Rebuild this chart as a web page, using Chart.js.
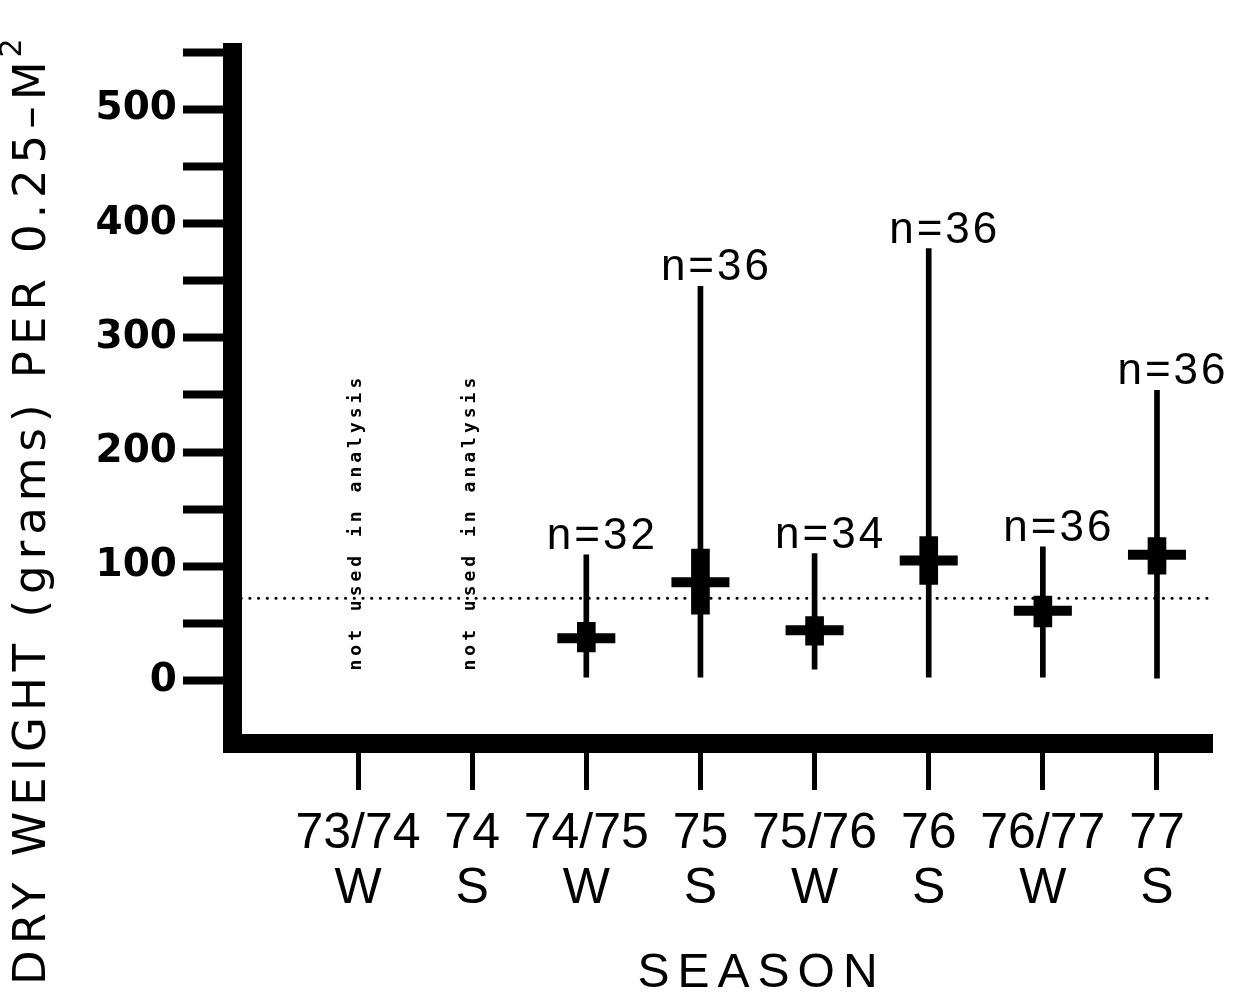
<!DOCTYPE html>
<html>
<head>
<meta charset="utf-8">
<title>Dry weight per season</title>
<script src="https://cdn.jsdelivr.net/npm/chart.js@4.4.1/dist/chart.umd.min.js"></script>
<style>
  html, body { margin: 0; padding: 0; background: #fff; overflow: hidden; }
  canvas { display: block; }
</style>
</head>
<body>
<canvas id="chart" width="1235" height="992"></canvas>
<script>
// seasons along the x axis
const seasonYears = ['73/74', '74', '74/75', '75', '75/76', '76', '76/77', '77'];
const seasonTypes = ['W', 'S', 'W', 'S', 'W', 'S', 'W', 'S'];
const sampleSizes = [null, null, 32, 36, 34, 36, 36, 36];
const notes = ['not used in analysis', 'not used in analysis', null, null, null, null, null, null];

// dry weight (g per 0.25 m2)
const rangeMin = [null, null, 3, 3, 10, 3, 3, 2];
const rangeMax = [null, null, 110, 345, 111, 378, 117, 254];
const boxLow = [null, null, 25, 58, 31, 84, 47, 93];
const boxHigh = [null, null, 51, 115, 56, 126, 74, 125];
const meanValues = [null, null, 37, 86, 44, 105, 61, 110];
const overallMean = 72;

// y axis ticks
const yTickValues = [0, 50, 100, 150, 200, 250, 300, 350, 400, 450, 500, 550];
const yLabelValues = [0, 100, 200, 300, 400, 500];

const xMin = -1.1, xMax = 7.482;
const yMin = -55.15, yMax = 550;

const used = seasonYears.map((_, i) => i).filter(i => meanValues[i] !== null);

const annotations = {
  id: 'annotations',
  afterDatasetsDraw(chart) {
    const ctx = chart.ctx, xs = chart.scales.x, ys = chart.scales.y;
    ctx.save();
    ctx.fillStyle = '#000';

    // n= labels above each whisker
    ctx.font = '44px "Liberation Sans", Arial, sans-serif';
    ctx.textAlign = 'center';
    ctx.textBaseline = 'alphabetic';
    ctx.letterSpacing = '3px';
    sampleSizes.forEach((n, i) => {
      if (n == null) return;
      ctx.fillText('n=' + n, xs.getPixelForValue(i) + 16, ys.getPixelForValue(rangeMax[i]) - 6);
    });

    // seasons left out
    ctx.font = 'bold 18px "DejaVu Sans Mono", monospace';
    ctx.letterSpacing = '4px';
    ctx.textAlign = 'left';
    notes.forEach((t, i) => {
      if (!t) return;
      ctx.save();
      ctx.translate(xs.getPixelForValue(i) + 3, ys.getPixelForValue(0) - 10);
      ctx.rotate(-Math.PI / 2);
      ctx.fillText(t, 0, 0);
      ctx.restore();
    });
    ctx.restore();
  },
  afterDraw(chart) {
    const ctx = chart.ctx, xs = chart.scales.x;
    ctx.save();
    ctx.fillStyle = '#000';

    // x title
    ctx.font = '48px "Liberation Sans", Arial, sans-serif';
    ctx.letterSpacing = '8px';
    ctx.textAlign = 'center';
    ctx.textBaseline = 'alphabetic';
    ctx.fillText('SEASON', xs.getPixelForValue(3.5) + 4, 987);

    // y title with superscript
    ctx.font = '45px "DejaVu Sans", sans-serif';
    ctx.letterSpacing = '6px';
    ctx.textAlign = 'left';
    const yTitle = 'DRY WEIGHT (grams) PER 0.25\u2013M';
    ctx.translate(45, 985);
    ctx.rotate(-Math.PI / 2);
    ctx.fillText(yTitle, 0, 0);
    const w = ctx.measureText(yTitle).width;
    ctx.font = '30px "DejaVu Sans", sans-serif';
    ctx.letterSpacing = '0px';
    ctx.fillText('2', w - 2, -24);
    ctx.restore();
  }
};

new Chart(document.getElementById('chart'), {
  type: 'bar',
  data: {
    datasets: [
      {
        label: 'range',
        data: used.map(i => ({ x: i, y: [rangeMin[i], rangeMax[i]] })),
        backgroundColor: '#000',
        borderWidth: 0,
        barThickness: 5,
        grouped: false
      },
      {
        label: 'spread',
        data: used.map(i => ({ x: i, y: [boxLow[i], boxHigh[i]] })),
        backgroundColor: '#000',
        borderWidth: 0,
        barThickness: 18,
        grouped: false
      },
      {
        type: 'line',
        label: 'mean',
        data: used.map(i => ({ x: i, y: meanValues[i] })),
        showLine: false,
        pointStyle: 'line',
        pointRadius: 29,
        pointBorderWidth: 10,
        pointBorderColor: '#000',
        pointBackgroundColor: '#000'
      },
      {
        type: 'line',
        label: 'overall',
        data: [{ x: xMin, y: overallMean }, { x: xMax, y: overallMean }],
        borderColor: '#000',
        borderWidth: 3.2,
        borderDash: [0, 8.7],
        borderCapStyle: 'round',
        pointRadius: 0
      }
    ]
  },
  options: {
    responsive: false,
    animation: false,
    layout: { autoPadding: false, padding: { left: 0, right: 23, top: 52.2, bottom: 0 } },
    plugins: {
      legend: { display: false },
      tooltip: { enabled: false }
    },
    scales: {
      x: {
        type: 'linear',
        min: xMin,
        max: xMax,
        offset: false,
        afterBuildTicks: s => { s.ticks = seasonYears.map((_, i) => ({ value: i })); },
        afterFit: s => { s.height = 248.5; s.paddingLeft = 0; s.paddingRight = 0; },
        grid: {
          offset: false,
          drawOnChartArea: false,
          tickLength: 46.5,
          tickWidth: 5,
          tickColor: '#000',
          color: '#000'
        },
        border: { display: true, width: 19, color: '#000' },
        ticks: {
          autoSkip: false,
          maxRotation: 0,
          padding: 17,
          color: '#000',
          font: { family: '"Liberation Sans", Arial, sans-serif', size: 50, lineHeight: 1.1 },
          callback: v => [seasonYears[v], seasonTypes[v]]
        }
      },
      y: {
        type: 'linear',
        min: yMin,
        max: yMax,
        afterBuildTicks: s => { s.ticks = yTickValues.map(v => ({ value: v })); },
        afterFit: s => { s.width = 232.5; s.paddingTop = 0; s.paddingBottom = 0; },
        grid: {
          drawOnChartArea: false,
          tickLength: 49.5,
          tickWidth: 8,
          tickColor: '#000',
          color: '#000'
        },
        border: { display: true, width: 19, color: '#000' },
        ticks: {
          autoSkip: false,
          padding: 6,
          color: '#000',
          font: { family: '"DejaVu Sans", sans-serif', size: 39, weight: 'bold' },
          callback: v => yLabelValues.includes(v) ? String(v) : ''
        }
      }
    }
  },
  plugins: [annotations]
});
</script>
</body>
</html>
